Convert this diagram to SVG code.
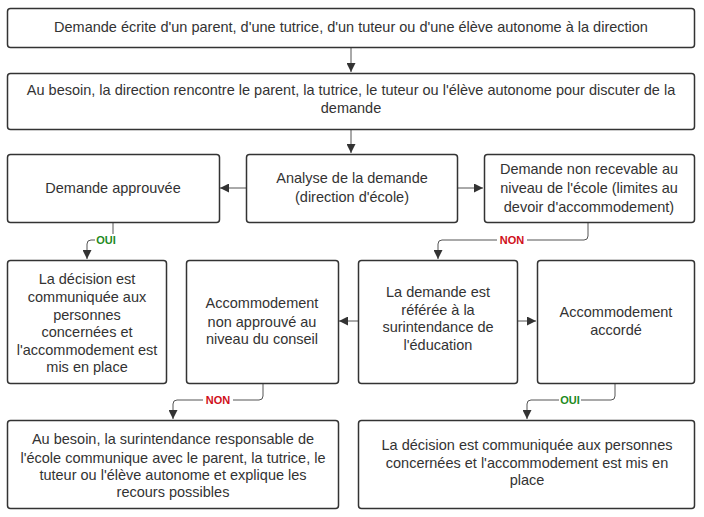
<svg xmlns="http://www.w3.org/2000/svg" width="704" height="517" viewBox="0 0 704 517">
<style>
.box{fill:#fff;stroke:#333;stroke-width:1.5}
.t{font-family:"Liberation Sans",Arial,sans-serif;font-size:14.5px;fill:#333;text-anchor:middle}
.c{fill:none;stroke:#555;stroke-width:1}
.lbl{font-family:"Liberation Sans",Arial,sans-serif;font-size:11px;font-weight:bold;text-anchor:middle}
.oui{fill:#1e8a1e}
.non{fill:#d0101a}
</style>
<defs>
<marker id="ah" viewBox="0 0 10 10" refX="10" refY="5" markerWidth="9" markerHeight="9" markerUnits="userSpaceOnUse" orient="auto">
<path d="M0,0 L10,5 L0,10 z" fill="#333"/>
</marker>
</defs>
<rect width="704" height="517" fill="#fff"/>
<g id="connectors">
<line class="c" x1="351" y1="47" x2="351" y2="72" marker-end="url(#ah)"/>
<line class="c" x1="351" y1="129" x2="351" y2="153" marker-end="url(#ah)"/>
<line class="c" x1="246" y1="188" x2="220" y2="188" marker-end="url(#ah)"/>
<line class="c" x1="457" y1="188" x2="483" y2="188" marker-end="url(#ah)"/>
<path class="c" d="M113,222 V236 Q113,240 109,240 H91 Q87,240 87,244 V259" marker-end="url(#ah)"/>
<path class="c" d="M588,222 V236 Q588,240 584,240 H442 Q438,240 438,244 V259" marker-end="url(#ah)"/>
<line class="c" x1="358" y1="321" x2="339" y2="321" marker-end="url(#ah)"/>
<line class="c" x1="517" y1="321" x2="536" y2="321" marker-end="url(#ah)"/>
<path class="c" d="M263,383 V396 Q263,400 259,400 H177 Q173,400 173,404 V419" marker-end="url(#ah)"/>
<path class="c" d="M615,383 V396 Q615,400 611,400 H531 Q527,400 527,404 V419" marker-end="url(#ah)"/>
<rect x="95" y="234" width="22" height="12" fill="#fff"/>
<text class="lbl oui" x="106" y="244">OUI</text>
<rect x="497" y="234" width="30" height="12" fill="#fff"/>
<text class="lbl non" x="512" y="244">NON</text>
<rect x="203" y="394" width="30" height="12" fill="#fff"/>
<text class="lbl non" x="218" y="404">NON</text>
<rect x="559" y="394" width="22" height="12" fill="#fff"/>
<text class="lbl oui" x="570" y="404">OUI</text>
</g>
<g id="n1">
<rect class="box" x="7.5" y="8.5" width="687" height="39" rx="3"/>
<text class="t" x="351" y="32">Demande écrite d'un parent, d'une tutrice, d'un tuteur ou d'une élève autonome à la direction</text>
</g>
<g id="n2">
<rect class="box" x="7.5" y="73.5" width="687" height="56" rx="3"/>
<text class="t" x="351" y="95">Au besoin, la direction rencontre le parent, la tutrice, le tuteur ou l'élève autonome pour discuter de la</text>
<text class="t" x="351" y="113">demande</text>
</g>
<g id="n3">
<rect class="box" x="7.5" y="154.5" width="212" height="68" rx="3"/>
<text class="t" x="113" y="193">Demande approuvée</text>
</g>
<g id="n4">
<rect class="box" x="246.5" y="154.5" width="211" height="68" rx="3"/>
<text class="t" x="352" y="183">Analyse de la demande</text>
<text class="t" x="352" y="202">(direction d'école)</text>
</g>
<g id="n5">
<rect class="box" x="484.5" y="154.5" width="210" height="68" rx="3"/>
<text class="t" x="589" y="174">Demande non recevable au</text>
<text class="t" x="589" y="193">niveau de l'école (limites au</text>
<text class="t" x="589" y="212">devoir d'accommodement)</text>
</g>
<g id="n6">
<rect class="box" x="7.5" y="260.5" width="159" height="123" rx="3"/>
<text class="t" x="87" y="284">La décision est</text>
<text class="t" x="87" y="302">communiquée aux</text>
<text class="t" x="87" y="319.5">personnes</text>
<text class="t" x="87" y="337">concernées et</text>
<text class="t" x="87" y="354.5">l'accommodement est</text>
<text class="t" x="87" y="372">mis en place</text>
</g>
<g id="n7">
<rect class="box" x="186.5" y="260.5" width="152" height="123" rx="3"/>
<text class="t" x="262" y="308">Accommodement</text>
<text class="t" x="262" y="327">non approuvé au</text>
<text class="t" x="262" y="344">niveau du conseil</text>
</g>
<g id="n8">
<rect class="box" x="358.5" y="260.5" width="159" height="123" rx="3"/>
<text class="t" x="438" y="297">La demande est</text>
<text class="t" x="438" y="315">référée à la</text>
<text class="t" x="438" y="332">surintendance de</text>
<text class="t" x="438" y="350">l'éducation</text>
</g>
<g id="n9">
<rect class="box" x="537.5" y="260.5" width="157" height="123" rx="3"/>
<text class="t" x="616" y="317">Accommodement</text>
<text class="t" x="616" y="335">accordé</text>
</g>
<g id="n10">
<rect class="box" x="7.5" y="420.5" width="331" height="88" rx="3"/>
<text class="t" x="173" y="444">Au besoin, la surintendance responsable de</text>
<text class="t" x="173" y="462.5">l'école communique avec le parent, la tutrice, le</text>
<text class="t" x="173" y="480">tuteur ou l'élève autonome et explique les</text>
<text class="t" x="173" y="497">recours possibles</text>
</g>
<g id="n11">
<rect class="box" x="358.5" y="420.5" width="336" height="88" rx="3"/>
<text class="t" x="527" y="450">La décision est communiquée aux personnes</text>
<text class="t" x="527" y="468">concernées et l'accommodement est mis en</text>
<text class="t" x="527" y="485">place</text>
</g>
</svg>
